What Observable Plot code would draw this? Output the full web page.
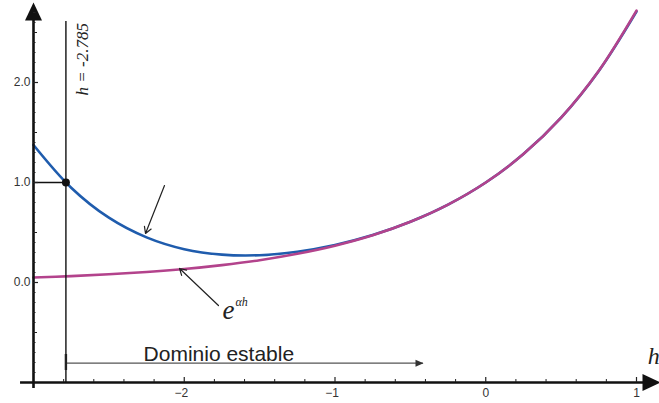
<!DOCTYPE html>
<html><head><meta charset="utf-8">
<script src="https://cdn.jsdelivr.net/npm/d3@7"></script>
<script src="https://cdn.jsdelivr.net/npm/@observablehq/plot@0.6"></script>
<style>html,body{margin:0;padding:0;background:#fff;overflow:hidden}</style>
</head><body><div id="chart"></div>
<script>
// values
const h     = [-3, -2.75, -2.5, -2.25, -2, -1.75, -1.5, -1.25, -1, -0.75, -0.5, -0.25, 0, 0.25, 0.5, 0.75, 1];
const rk4   = [1.375, 0.948, 0.648, 0.451, 0.333, 0.279, 0.273, 0.308, 0.375, 0.474, 0.607, 0.779, 1, 1.284, 1.648, 2.115, 2.708];
const expAh = [0.050, 0.064, 0.082, 0.105, 0.135, 0.174, 0.223, 0.287, 0.368, 0.472, 0.607, 0.779, 1, 1.284, 1.649, 2.117, 2.718];
const xTickValues = [-2, -1, 0, 1];
const xTickLabels = ["\u22122", "\u22121", "0", "1"];
const yTickValues = [0, 1, 2];
const yTickLabels = ["0.0", "1.0", "2.0"];
const boundary = -2.785;
const boundaryLabel = "h = -2.785";
const domainLabel = "Dominio estable";
const domainArrowEnd = -0.413;
const expBase = "e";
const expSup = "\u03b1h";
const axisLabel = "h";

const rows = h.map((v, i) => ({h: v, r: rk4[i], e: expAh[i]}));
const xTicks = xTickValues.map((v, i) => ({x: v, label: xTickLabels[i]}));
const yTicks = yTickValues.map((v, i) => ({y: v, label: yTickLabels[i]}));
const xMinor = d3.range(-14, 6).map(i => i / 5).filter(v => !Number.isInteger(v));
const yAll = d3.range(-9, 28).map(i => i / 10);
const yMinor = yAll.filter(v => Math.abs(v * 10) % 5 !== 0);
const yMid = yAll.filter(v => Math.abs(v * 10) % 5 === 0 && !Number.isInteger(v));
const yMajor = [0, 1, 2];

const bigHead = {draw(ctx) { ctx.moveTo(0, 0); ctx.lineTo(8.5, 18); ctx.lineTo(-8.5, 18); ctx.closePath(); }};
const smallHead = {draw(ctx) { ctx.moveTo(0, 0); ctx.lineTo(3.5, 8); ctx.lineTo(-3.5, 8); ctx.closePath(); }};

const serif = "Liberation Serif, Times New Roman, serif";
const sans = "Liberation Sans, Arial, sans-serif";

const plot = Plot.plot({
  width: 659, height: 403,
  marginLeft: 33, marginRight: 23, marginTop: 2, marginBottom: 21,
  x: {domain: [-3, 1], axis: null},
  y: {domain: [-1, 2.8], axis: null},
  marks: [
    // curves
    Plot.line(rows, {x: "h", y: "r", stroke: "#1f5cad", strokeWidth: 2.6, curve: "catmull-rom"}),
    Plot.line(rows, {x: "h", y: "e", stroke: "#b3438c", strokeWidth: 2.6, curve: "catmull-rom"}),
    // boundary line & marker
    Plot.ruleX([{x: boundary, y1: -1, y2: 2.61}], {x: "x", y1: "y1", y2: "y2", stroke: "#111", strokeWidth: 1.4}),
    Plot.ruleY([{y: 1, x1: -3, x2: boundary}], {y: "y", x1: "x1", x2: "x2", stroke: "#111", strokeWidth: 1.3}),
    Plot.dot([{x: boundary, y: 1}], {x: "x", y: "y", r: 4, fill: "#111", stroke: "none"}),
    Plot.text([boundaryLabel], {x: -2.675, y: 1.87, text: d => d, rotate: -90, textAnchor: "start",
      fontFamily: serif, fontStyle: "italic", fontSize: 17, fill: "#222"}),
    // axes
    Plot.ruleY([{y: -1, x1: -3.086, x2: 1.12}], {y: "y", x1: "x1", x2: "x2", stroke: "#111", strokeWidth: 2.6}),
    Plot.ruleX([{x: -3, y1: -1.06, y2: 2.7}], {x: "x", y1: "y1", y2: "y2", stroke: "#111", strokeWidth: 2.6}),
    Plot.dot([{x: 1.159, y: -1}], {x: "x", y: "y", symbol: bigHead, rotate: 90, fill: "#111", stroke: "none"}),
    Plot.dot([{x: -3, y: 2.80}], {x: "x", y: "y", symbol: bigHead, fill: "#111", stroke: "none"}),
    // x ticks
    Plot.ruleX(xMinor, {x: d => d, y1: -1, y2: -1, insetTop: -3, stroke: "#222", strokeWidth: 1}),
    Plot.ruleX(xTickValues, {x: d => d, y1: -1, y2: -1, insetTop: -5, stroke: "#222", strokeWidth: 1.2}),
    Plot.text(xTicks.filter(d => d.x < 0), {x: "x", y: -1, text: "label", dy: 11, dx: 4, textAnchor: "end",
      fontFamily: sans, fontSize: 12, fill: "#333"}),
    Plot.text(xTicks.filter(d => d.x >= 0), {x: "x", y: -1, text: "label", dy: 11,
      fontFamily: sans, fontSize: 12, fill: "#333"}),
    // y ticks
    Plot.ruleY(yMinor, {y: d => d, x1: -3, x2: -3, insetRight: -2.5, stroke: "#222", strokeWidth: 1}),
    Plot.ruleY(yMid, {y: d => d, x1: -3, x2: -3, insetRight: -4, stroke: "#222", strokeWidth: 1}),
    Plot.ruleY(yMajor, {y: d => d, x1: -3, x2: -3, insetRight: -5, stroke: "#222", strokeWidth: 1.2}),
    Plot.text(yTicks, {x: -3, y: "y", text: "label", dx: -3, textAnchor: "end",
      fontFamily: sans, fontSize: 12, fill: "#333"}),
    Plot.text([axisLabel], {x: 1.075, y: -0.81, text: d => d, textAnchor: "start", lineAnchor: "bottom",
      fontFamily: serif, fontStyle: "italic", fontSize: 24, fill: "#222"}),
    // stable domain
    Plot.ruleY([{y: -0.807, x1: boundary, x2: domainArrowEnd}], {y: "y", x1: "x1", x2: "x2", stroke: "#555", strokeWidth: 1.3}),
    Plot.dot([{x: domainArrowEnd, y: -0.807}], {x: "x", y: "y", symbol: smallHead, rotate: 90, fill: "#333", stroke: "none"}),
    Plot.ruleX([{x: boundary, y1: -0.88, y2: -0.72}], {x: "x", y1: "y1", y2: "y2", stroke: "#222", strokeWidth: 2.4}),
    Plot.text([domainLabel], {x: -2.27, y: -0.78, text: d => d, textAnchor: "start", lineAnchor: "bottom",
      fontFamily: sans, fontSize: 21, fill: "#222"}),
    // annotation arrows
    Plot.arrow([{x1: -2.131, y1: 0.97, x2: -2.257, y2: 0.49}], {x1: "x1", y1: "y1", x2: "x2", y2: "y2",
      stroke: "#222", strokeWidth: 1.2, headLength: 9}),
    Plot.arrow([{x1: -1.773, y1: -0.23, x2: -2.031, y2: 0.14}], {x1: "x1", y1: "y1", x2: "x2", y2: "y2",
      stroke: "#222", strokeWidth: 1.2, headLength: 9}),
    Plot.text([expBase], {x: -1.746, y: -0.36, text: d => d, textAnchor: "start", lineAnchor: "bottom",
      fontFamily: serif, fontStyle: "italic", fontSize: 27, fill: "#222"}),
    Plot.text([expSup], {x: -1.66, y: -0.23, text: d => d, textAnchor: "start", lineAnchor: "bottom",
      fontFamily: serif, fontStyle: "italic", fontSize: 12, fill: "#222"})
  ]
});
document.getElementById("chart").appendChild(plot);
</script>
</body></html>
